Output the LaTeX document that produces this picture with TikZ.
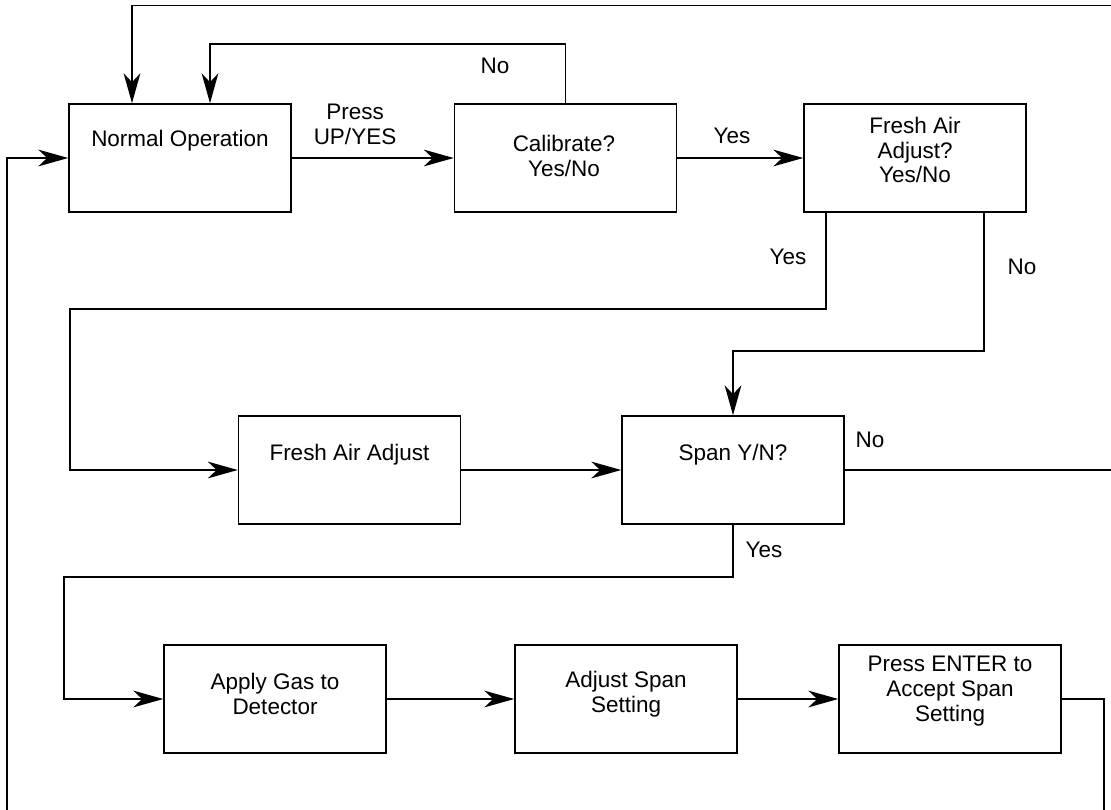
\documentclass[tikz,border=0pt]{standalone}
\usepackage{fontspec}
\setmainfont{Liberation Sans}
\usetikzlibrary{arrows.meta}

\tikzset{
  blk/.style={draw, line width=0.9pt, minimum width=4.44cm, minimum height=2.16cm, inner sep=0pt},
  txt/.style={align=center, font=\fontsize{12.8}{14.2}\selectfont, inner sep=0pt},
  flow/.style={line width=0.85pt, -{Stealth[length=17pt, width=9.5pt, inset=5pt]}},
}

\begin{document}
\begin{tikzpicture}[x=0.02cm, y=-0.02cm]
\useasboundingbox (0,0) rectangle (1111,810);
\clip (0,0) rectangle (1111,810);

% boxes
\node[blk] (norm) at (180,158) {};
\node[blk] (calib) at (565.5,158) {};
\node[blk] (freshq) at (915,158) {};
\node[blk] (fadj) at (349.5,470) {};
\node[blk] (span) at (733,470) {};
\node[blk] (gas) at (275,699) {};
\node[blk] (adjspan) at (626,699) {};
\node[blk] (enter) at (950,699) {};

% texts in the boxes
\node[txt] (norm-t) at (180,141) {Normal Operation};
\node[txt] (calib-t) at (564,156) {Calibrate?\\Yes/No};
\node[txt] (freshq-t) at (915,150) {Fresh Air\\Adjust?\\Yes/No};
\node[txt] (fadj-t) at (349.5,455) {Fresh Air Adjust};
\node[txt] (span-t) at (733,455) {Span Y/N?};
\node[txt] (gas-t) at (275,694) {Apply Gas to\\Detector};
\node[txt] (adjspan-t) at (626,694) {Adjust Span\\Setting};
\node[txt] (enter-t) at (950,691) {Press ENTER to\\Accept Span\\Setting};

% answers
\node[txt] (press) at (355,124) {Press\\UP/YES};
\node[txt] (calib-no) at (495,66) {No};
\node[txt] (calib-yes) at (732,136) {Yes};
\node[txt] (freshq-yes) at (788,257) {Yes};
\node[txt] (freshq-no) at (1022,267) {No};
\node[txt] (span-no) at (870,440) {No};
\node[txt] (span-yes) at (764,550) {Yes};

% straight runs
\draw[flow] (norm) -- (calib);
\draw[flow] (calib) -- (freshq);
\draw[flow] (fadj) -- (span);
\draw[flow] (gas) -- (adjspan);
\draw[flow] (adjspan) -- (enter);

% calibrate: no
\coordinate (nobend) at (210,44);
\draw[flow] (calib.north) |- (nobend) -- (nobend |- norm.north);

% fresh air adjust: yes / no
\coordinate (fy) at (826,309);
\coordinate (fyleft) at (70,309);
\draw[flow] (fy |- freshq.south) -- (fy) -- (fyleft) |- (fadj.west);
\coordinate (fn) at (984,351);
\draw[flow] (fn |- freshq.south) -- (fn) -| (span.north);

% span: yes
\coordinate (sy) at (64,577);
\draw[flow] (span.south) |- (sy) |- (gas.west);

% span: no, back over the top
\coordinate (topleft) at (132,5.5);
\draw[flow] (span.east) -- ++(300,0) |- (topleft) -- (topleft |- norm.north);

% accepted, back round the bottom
\coordinate (botright) at (1104,830);
\coordinate (botleft) at (7,830);
\draw[flow] (enter.east) -| (botright) -- (botleft) |- (norm.west);
\end{tikzpicture}
\end{document}
